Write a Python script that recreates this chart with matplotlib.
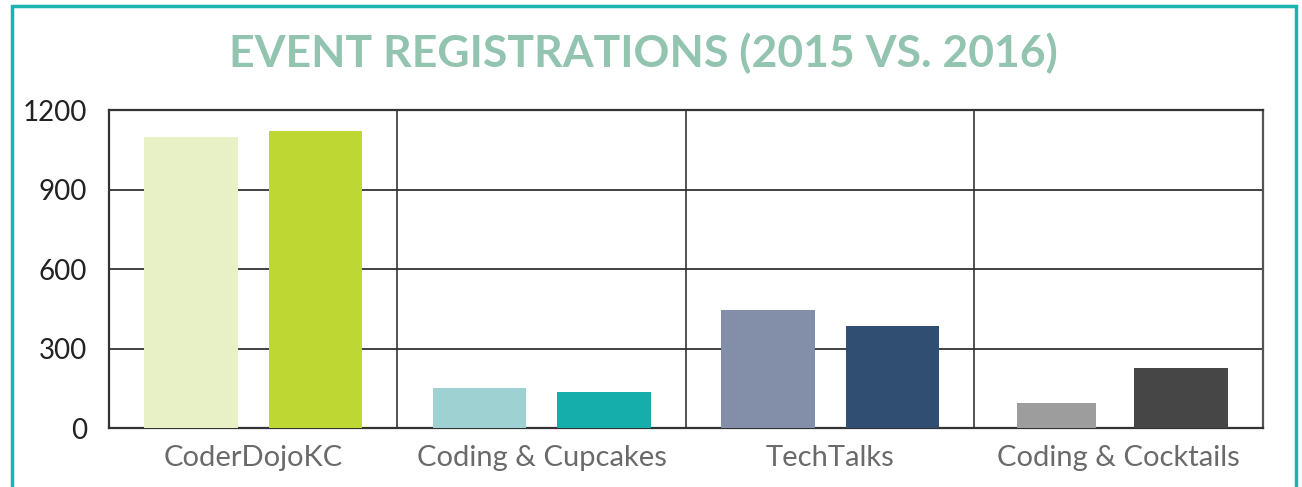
import matplotlib
matplotlib.use('Agg')
import matplotlib.pyplot as plt
import numpy as np
from matplotlib.patches import Rectangle

matplotlib.rcParams['font.family'] = ['Lato', 'DejaVu Sans']

### data
events = ['CoderDojoKC', 'Coding & Cupcakes', 'TechTalks', 'Coding & Cocktails']
reg_2015 = [1100, 150, 447, 95]
reg_2016 = [1122, 135, 386, 227]
colors_2015 = ['#e8f0c6', '#9ed2d2', '#838ea8', '#9e9d9e']
colors_2016 = ['#bed733', '#16aeab', '#2f4e72', '#464646']
yticks = [0, 300, 600, 900, 1200]

fig = plt.figure(figsize=(13.02, 4.87), dpi=100)
ax = fig.add_axes([0.0837, 0.1211, 0.8863, 0.6530])

x = np.arange(len(events))
w = 0.325
off = 0.216
# the 2015 cocktails bar is drawn a bit narrower in the original
w15 = [w, w, w, 0.273]
ax.bar(x - off, reg_2015, width=w15, color=colors_2015, zorder=3)
ax.bar(x + off, reg_2016, width=w, color=colors_2016, zorder=3)

ax.set_xlim(-0.5, len(events) - 0.5)
ax.set_ylim(0, 1200)
ax.set_yticks(yticks)
ax.set_xticks(x)
ax.set_xticklabels(events, fontsize=21, color='#6a6a6a', fontweight='normal')
ax.set_xticks(x[:-1] + 0.5, minor=True)
ax.tick_params(axis='y', labelsize=20, labelcolor='#222222', length=0, pad=16)
ax.tick_params(axis='x', which='both', length=0, pad=12)

ax.grid(axis='y', color='#333333', linewidth=1.3, zorder=1)
ax.grid(axis='x', which='minor', color='#444444', linewidth=1.3, zorder=1)
ax.grid(axis='x', which='major', visible=False)
for s in ax.spines.values():
    s.set_color('#333333')
    s.set_linewidth(1.6)
ax.spines['right'].set_color('#555555')

fig.text(0.494, 0.89, 'EVENT REGISTRATIONS (2015 VS. 2016)', ha='center', va='center',
         fontsize=32, fontweight='bold', color='#93c4b0')

# teal frame round the whole graphic
fig.patches.append(Rectangle((12 / 1302, -0.05), 1284 / 1302, 1.05 - 6 / 487,
                             transform=fig.transFigure, fill=False,
                             edgecolor='#1ab3ad', linewidth=2.5))

fig.savefig('out.png', dpi=100)
